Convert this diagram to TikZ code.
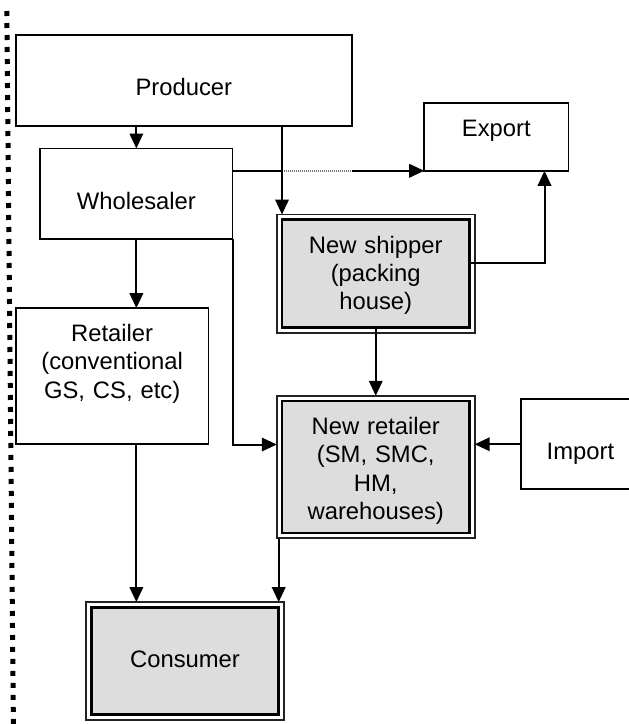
\documentclass[tikz,border=0pt]{standalone}
\usepackage{fontspec}
\setmainfont{Liberation Sans}
\usetikzlibrary{arrows.meta,fit}
\definecolor{boxgrey}{HTML}{DDDDDD}
\definecolor{framegrey}{HTML}{222222}

\begin{document}
\begin{tikzpicture}[
  x=1pt,y=-1pt,
  flowbox/.style={draw,line width=1.8pt,inner sep=0pt,outer sep=0pt,align=center,
                  font=\fontsize{23.8}{28.4}\selectfont},
  newbox/.style={flowbox,line width=2.8pt,fill=boxgrey},
  frame/.style={draw=framegrey,line width=1.8pt,inner sep=5.2pt,outer sep=0pt},
  firstline/.style={text height=33.3pt},
  secondline/.style={text height=60.6pt},
  arrow/.style={-{Triangle[length=15pt,width=13.5pt]},line width=2pt},
  hop/.style={draw=white,line width=2pt,
              postaction={draw=black!55,line width=2pt,dash pattern=on 1.2pt off 0.8pt}},
]
\useasboundingbox (0,0) rectangle (629,724);

% dotted boundary on the left
\draw[line width=5pt,dash pattern=on 5pt off 7pt] (6.8,11) -- (13.4,724);

% plain boxes
\node[flowbox,secondline,minimum width=336pt,text width=320pt,text depth=30pt]
  (prod) at (183.8,80.5) {Producer};
\node[flowbox,secondline,minimum width=192.3pt,text width=180pt,text depth=30.1pt]
  (whole) at (136.35,193.85) {Wholesaler};
\node[flowbox,firstline,minimum width=144.3pt,text width=130pt,text depth=34.7pt]
  (export) at (496.35,136.8) {Export};
\node[flowbox,firstline,minimum width=192.7pt,text width=180pt,text depth=102.8pt]
  (retail) at (112.15,376.25) {Retailer\\(conventional\\GS, CS, etc)};
\node[flowbox,secondline,minimum width=119.2pt,text width=105pt,text depth=29.5pt]
  (import) at (580.4,444.25) {Import};

% new channel boxes, double framed
\node[newbox,firstline,minimum width=187.5pt,text width=175pt,text depth=74.8pt]
  (ship) at (375.75,273.75) {New shipper\\(packing\\house)};
\node[frame,fit=(ship)] (shipframe) {};
\node[newbox,firstline,minimum width=187.5pt,text width=175pt,text depth=98.7pt]
  (ret) at (375.75,467) {New retailer\\(SM, SMC,\\HM,\\warehouses)};
\node[frame,fit=(ret)] (retframe) {};
\node[newbox,secondline,minimum width=187.4pt,text width=175pt,text depth=46.8pt]
  (cons) at (185,661) {Consumer};
\node[frame,fit=(cons)] (consframe) {};

% flows
\draw[arrow] (prod.south -| whole.north) -- (whole.north);
\draw[arrow] (whole.east |- export.south) -- (export.south west);
\draw[hop] (ship.west |- export.south) -- (prod.east |- export.south);
\draw[arrow] (prod.south -| ship.west) -- (ship.west |- shipframe.north);
\draw[arrow] ([yshift=11pt]ship.east) -| ([xshift=-24pt]export.south east);
\draw[arrow] (whole.south) -- (whole.south |- retail.north);
\draw[arrow] (ship.south) -- (retframe.north);
\draw[arrow] (whole.south east) |- ([yshift=22.5pt]retframe.west);
\draw[arrow] (import.west) -- (import.west -| retframe.east);
\draw[arrow] (whole.south |- retail.south) -- (whole.south |- consframe.north);
\draw[arrow] (retframe.south -| cons.east) -- (cons.east |- consframe.north);
\end{tikzpicture}
\end{document}
